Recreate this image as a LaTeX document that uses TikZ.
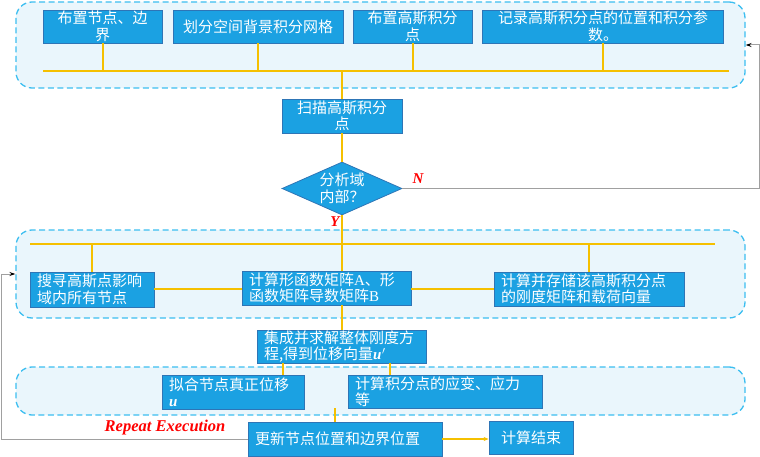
\documentclass[tikz,border=0pt]{standalone}
\usepackage{fontspec}
\setmainfont{Noto Sans CJK SC}
\newfontfamily\lat{Liberation Serif}
\usetikzlibrary{shapes.geometric,arrows.meta}
\definecolor{boxfill}{HTML}{1BA1E2}
\definecolor{boxedge}{HTML}{2E75B6}
\definecolor{grpedge}{HTML}{3CBEF0}
\definecolor{grpfill}{HTML}{EAF6FC}
\definecolor{yel}{HTML}{F5C000}
\definecolor{loopgray}{HTML}{A0A0A0}
\definecolor{lblred}{HTML}{FF0000}
\begin{document}
\begin{tikzpicture}[x=1pt,y=-1pt,
  box/.style={draw=boxedge, fill=boxfill, text=white, inner xsep=7pt, inner ysep=0pt,
    font=\fontsize{15}{16.5}\selectfont, line width=0.8pt},
  grp/.style={draw=grpedge, fill=grpfill, line width=1.3pt, dash pattern=on 6pt off 3.5pt,
    rounded corners=16pt, inner sep=0pt},
  yl/.style={draw=yel, line width=2pt},
  gl/.style={draw=loopgray, line width=1pt},
  lbl/.style={text=lblred, font=\lat\bfseries\itshape\fontsize{15}{17}\selectfont, inner sep=0pt}
]
\useasboundingbox (0,0) rectangle (760,457);

% groups
\node[grp, minimum width=729pt, minimum height=86pt] (g1) at (380.5,45) {};
\node[grp, minimum width=729pt, minimum height=88pt] (g2) at (380.5,274) {};
\node[grp, minimum width=729pt, minimum height=48pt] (g3) at (380.5,391) {};

% coordinates for lines
\coordinate (tl) at (43,71);
\coordinate (tr) at (729,71);
\coordinate (ml) at (30,244);
\coordinate (mr) at (715,244);
\coordinate (fx) at (283,0);
\coordinate (sx) at (390,0);
\coordinate (ux) at (335,0);
\coordinate (nr) at (759,0);
\coordinate (lx) at (1.5,0);
\coordinate (cy) at (0,289);

% top row
\node[box, text width=105pt, minimum height=33pt, align=center] (b1) at (102.5,26.5) {布置节点、边\\界};
\node[box, text width=156pt, minimum height=33pt, align=center] (b2) at (258,26.5) {划分空间背景积分网格};
\node[box, text width=105pt, minimum height=33pt, align=center] (b3) at (412.5,26.5) {布置高斯积分\\点};
\node[box, text width=227pt, minimum height=33pt, align=center] (b4) at (603,26.5) {记录高斯积分点的位置和积分参\\数。};

\draw[yl] (tl) -- (tr);
\draw[yl] (b1.south) -- (b1.south |- tl);
\draw[yl] (b2.south) -- (b2.south |- tl);
\draw[yl] (b3.south) -- (b3.south |- tl);
\draw[yl] (b4.south) -- (b4.south |- tl);

% scan and decision
\node[box, text width=106pt, minimum height=34pt, align=center] (scan) at (342,116) {扫描高斯积分\\点};
\node[box, shape=diamond, aspect=2.26, inner xsep=0pt, inner ysep=0pt, minimum width=120pt, minimum height=53pt, align=center] (dia) at (342,188.5) {分析域\\内部？};

\draw[yl] (scan.north |- tl) -- (scan.north);
\draw[yl] (scan.south) -- (dia.north);

% middle row
\node[box, text width=110pt, minimum height=35pt, align=left] (m1) at (92,289.5) {搜寻高斯点影响\\域内所有节点};
\node[box, text width=155pt, minimum height=34pt, align=left] (m2) at (326.5,288) {计算形函数矩阵{\lat A}、形\\函数矩阵导数矩阵{\lat B}};
\node[box, text width=176pt, minimum height=34pt, align=left] (m3) at (589,289) {计算并存储该高斯积分点\\的刚度矩阵和载荷向量};

\draw[yl] (ml) -- (mr);
\draw[yl] (dia.south) -- (dia.south |- m2.north);
\draw[yl] (m1.north) -- (m1.north |- ml);
\draw[yl] (m3.north) -- (m3.north |- ml);
\draw[yl] (m1.east |- cy) -- (m2.west |- cy);
\draw[yl] (m2.east |- cy) -- (m3.west |- cy);

% integration
\node[box, text width=155pt, minimum height=33pt, align=left] (int) at (341.5,346.5) {集成并求解整体刚度方\\程,得到位移向量{\lat\bfseries\itshape u\kern0.5pt$'$}};
\draw[yl] (dia.south |- m2.south) -- (dia.south |- int.north);

% bottom row
\node[box, text width=128pt, minimum height=34pt, align=left] (fit) at (233,392) {拟合节点真正位移\\{\lat\bfseries\itshape u}};
\node[box, text width=180pt, minimum height=33pt, align=left] (str) at (445,391.5) {计算积分点的应变、应力\\等};

\node[box, text width=180pt, minimum height=34pt, align=left] (upd) at (345,439) {更新节点位置和边界位置};
\node[box, text width=70pt, minimum height=33pt, align=center] (end) at (531,437.5) {计算结束};

\draw[yl, line width=1.4pt] (int.south -| fx) -- (fit.north -| fx);
\draw[yl, line width=1.4pt] (int.south -| sx) -- (str.north -| sx);
\draw[yl, line width=1.4pt] (str.south -| ux) -- (upd.north -| ux);
\draw[yl, line width=1.4pt, -{Stealth[length=5pt,width=4pt]}] (upd.east) -- (upd.east -| end.west);

% loops
\draw[gl, -{Stealth[length=6pt,width=4pt,black]}] (dia.east) -- (dia.east -| nr) |- (g1.east);
\draw[gl, -{Stealth[length=6pt,width=4pt,black]}] (upd.west) -- (upd.west -| lx) |- (g2.west);

% labels
\node[lbl] (nlab) at (418,179) {N};
\node[lbl] (ylab) at (335,222) {Y};
\node[lbl, font=\lat\bfseries\itshape\fontsize{16.5}{18}\selectfont] (rep) at (165,428) {Repeat Execution};
\end{tikzpicture}
\end{document}
